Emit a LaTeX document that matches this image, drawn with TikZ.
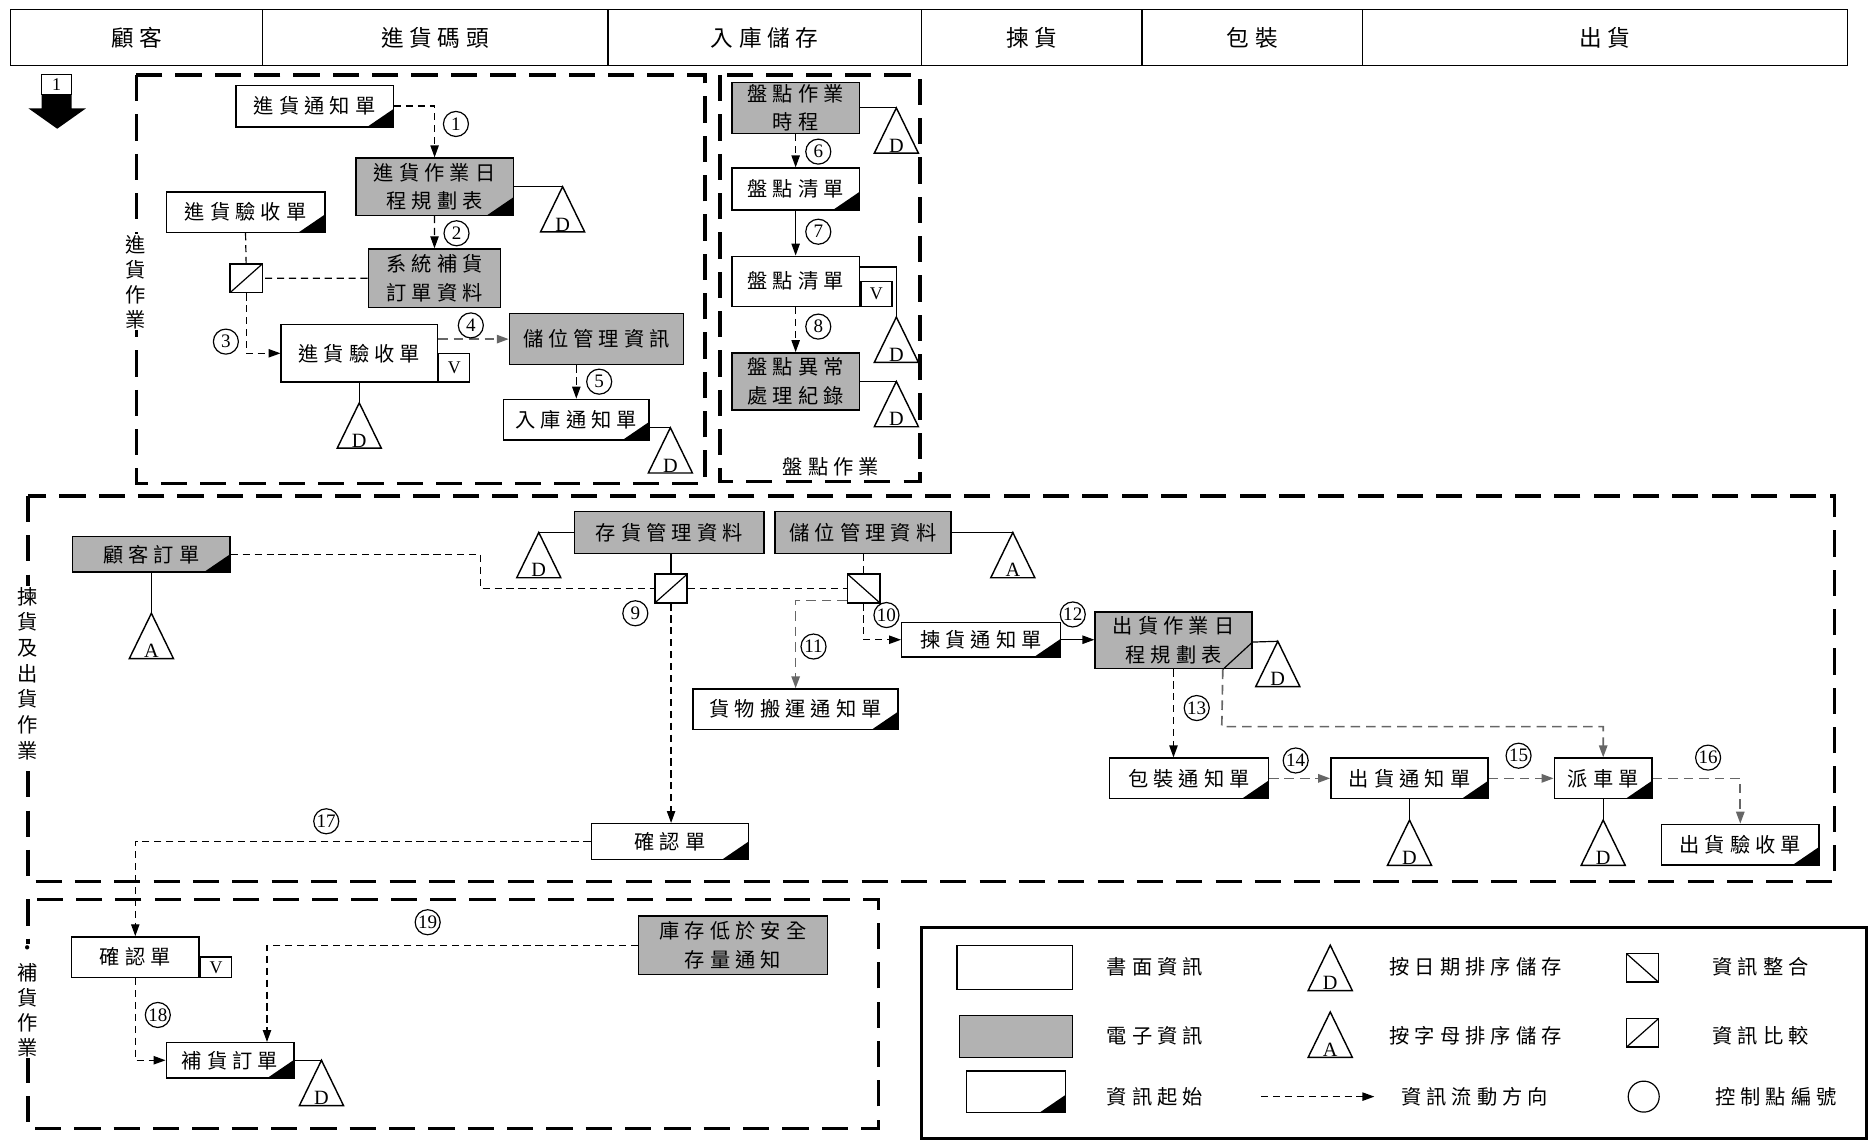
\documentclass[tikz,border=0pt]{standalone}
\usepackage{fontspec}
\setmainfont{Liberation Serif}
\newfontfamily\cjk[LetterSpace=25]{Noto Sans CJK TC}
\usetikzlibrary{arrows.meta}

\begin{document}
\begin{tikzpicture}[
    x=1pt, y=-1pt,
    box/.style={draw, line width=1.2pt, fill=white, inner sep=1pt, align=center, font=\cjk\fontsize{17}{24}\selectfont},
    paper/.style={box},
    elec/.style={box, fill=black!30},
    start/.style={path picture={\fill[black] (path picture bounding box.south east) -- ++(-22pt,0pt) -- ++(22pt,15pt) -- cycle;}},
    vbox/.style={draw, line width=1.2pt, fill=white, inner sep=0pt, minimum width=26pt, minimum height=21pt, anchor=south west, font=\fontsize{15}{15}\selectfont},
    cmp/.style={draw, line width=1.2pt, fill=white, minimum width=27pt, minimum height=24pt, inner sep=0pt,
        path picture={\draw[line width=1pt] (path picture bounding box.south west) -- (path picture bounding box.north east);}},
    mrg/.style={draw, line width=1.2pt, fill=white, minimum width=27pt, minimum height=24pt, inner sep=0pt,
        path picture={\draw[line width=1pt] (path picture bounding box.north west) -- (path picture bounding box.south east);}},
    num/.style={draw, circle, line width=1pt, fill=white, minimum size=21pt, inner sep=0pt, font=\fontsize{16}{16}\selectfont},
    head/.style={draw, line width=1.2pt, minimum height=47pt, inner sep=0pt, font=\cjk\fontsize{19}{19}\selectfont},
    region/.style={line width=3pt, dash pattern=on 22pt off 11pt},
    grplbl/.style={fill=white, inner sep=1pt, align=center, font=\cjk\fontsize{17}{21}\selectfont},
    lgtext/.style={font=\cjk\fontsize{17}{17}\selectfont, inner sep=1pt},
    link/.style={line width=1pt},
    flow/.style={line width=1pt, dash pattern=on 6pt off 4pt},
    flowg/.style={line width=1.4pt, draw=black!60, dash pattern=on 8pt off 5pt},
    tip/.style={-{Triangle[length=10pt, width=7pt]}},
    store/.pic={
        \draw[line width=1.2pt, fill=white] (0,0) -- (-18.5,38) -- (18.5,38) -- cycle;
        \node[anchor=south, inner sep=0.5pt, font=\fontsize{17}{17}\selectfont] at (0,38) {\tikzpictext};
    },
]
\useasboundingbox (0,0) rectangle (1568,956);

% header row
\node[head, minimum width=211pt] (hCust) at (114.5,31.5) {顧客};
\node[head, minimum width=290pt] (hDock) at (365,31.5) {進貨碼頭};
\node[head, minimum width=263pt] (hStore) at (641.5,31.5) {入庫儲存};
\node[head, minimum width=185pt] (hPick) at (865.5,31.5) {揀貨};
\node[head, minimum width=185pt] (hPack) at (1050.5,31.5) {包裝};
\node[head, minimum width=407pt] (hShip) at (1346.5,31.5) {出貨};

% step marker
\node[draw, line width=1pt, minimum width=25pt, minimum height=17pt, inner sep=0pt, font=\fontsize{15}{15}\selectfont] (stepNo) at (47.5,71) {1};
\fill (35,79.5) -- (60,79.5) -- (60,91) -- (72,91) -- (48,108) -- (24,91) -- (35,91) -- cycle;

% group frames
\draw[region] (114.4,63) rectangle (591.3,405.5);
\draw[region] (604,63) rectangle (772,404);
\draw[region] (23.5,416) rectangle (1539,739.7);
\draw[region] (23.5,754.5) rectangle (737,946.6);
\node[grplbl] (gIn) at (114,236.5) {進\\貨\\作\\業};
\node[grplbl] (gCount) at (697,392) {盤點作業};
\node[grplbl, font=\cjk\fontsize{17}{21.5}\selectfont] (gOut) at (23.5,565) {揀\\貨\\及\\出\\貨\\作\\業};
\node[grplbl] (gRefill) at (23.5,840) {·\\補\\貨\\作\\業};

% receiving
\node[paper, start, minimum width=132pt, minimum height=35pt] (inNote) at (264,89) {進貨通知單};
\node[elec, start, minimum width=132pt, minimum height=48pt] (inPlan) at (364.6,156.6) {進貨作業日\\程規劃表};
\node[paper, start, minimum width=133pt, minimum height=34pt] (inCheckA) at (206,178) {進貨驗收單};
\node[cmp] (cmpIn) at (206.5,233.5) {};
\node[elec, minimum width=111pt, minimum height=49pt] (sysOrder) at (364.5,233.4) {系統補貨\\訂單資料};
\node[paper, minimum width=131pt, minimum height=48pt] (inCheckB) at (301.4,296.4) {進貨驗收單};
\node[vbox, minimum height=24pt] (inCheckV) at (inCheckB.south east) {V};
\node[elec, minimum width=146pt, minimum height=43pt] (binInfo) at (500.4,284.5) {儲位管理資訊};
\node[paper, start, minimum width=122pt, minimum height=34pt] (stockIn) at (483.5,352) {入庫通知單};

% stock count
\node[elec, minimum width=107pt, minimum height=43pt] (countPlan) at (667.5,90.5) {盤點作業\\時程};
\node[paper, start, minimum width=107pt, minimum height=35pt] (countListA) at (667.5,158.5) {盤點清單};
\node[paper, minimum width=107pt, minimum height=42pt] (countListB) at (667.5,236) {盤點清單};
\node[vbox] (countListV) at (countListB.south east) {V};
\node[elec, minimum width=107pt, minimum height=48pt] (countErr) at (667.5,320) {盤點異常\\處理紀錄};

% picking and shipping
\node[elec, start, minimum width=132pt, minimum height=30pt] (custOrder) at (127,465) {顧客訂單};
\node[elec, minimum width=159pt, minimum height=35pt] (stockData) at (561.5,446.7) {存貨管理資料};
\node[elec, minimum width=148pt, minimum height=35pt] (binData) at (724,446.7) {儲位管理資料};
\node[cmp] (cmpOut) at (563,493.7) {};
\node[mrg] (mrgOut) at (724.6,493.7) {};
\node[paper, start, minimum width=172pt, minimum height=34pt] (moveNote) at (667.5,595) {貨物搬運通知單};
\node[paper, start, minimum width=133pt, minimum height=29pt] (pickNote) at (823,536.7) {揀貨通知單};
\node[elec, minimum width=131.5pt, minimum height=47.5pt] (shipPlan) at (984.5,537.3) {出貨作業日\\程規劃表};
\node[paper, start, minimum width=132pt, minimum height=30pt] (confirmA) at (562,706) {確認單};
\node[paper, start, minimum width=133pt, minimum height=34pt] (packNote) at (997.5,653) {包裝通知單};
\node[paper, start, minimum width=132pt, minimum height=34pt] (shipNote) at (1182.5,653) {出貨通知單};
\node[paper, start, minimum width=82pt, minimum height=34pt] (truckNote) at (1345,653) {派車單};
\node[paper, start, minimum width=132pt, minimum height=34pt] (shipCheck) at (1460,708.6) {出貨驗收單};

% replenishment
\node[paper, minimum width=107pt, minimum height=34pt] (confirmB) at (113.5,803) {確認單};
\node[vbox, minimum height=17pt] (confirmV) at (confirmB.south east) {V};
\node[paper, start, minimum width=107pt, minimum height=29.5pt] (refill) at (193,889.5) {補貨訂單};
\node[elec, minimum width=158.5pt, minimum height=49pt] (lowStock) at (615,793) {庫存低於安全\\存量通知};

% storage files
\coordinate (dPlan) at (472,156.6);
\coordinate (dCheck) at (301.4,338);
\coordinate (dStockIn) at (562.4,358.8);
\coordinate (dCount) at (752,90.5);
\coordinate (listTap) at (752,224);
\coordinate (dList) at (752,266);
\coordinate (dErr) at (752,320);
\coordinate (aCust) at (127,514.5);
\coordinate (dStock) at (452,446.7);
\coordinate (aBin) at (849.7,446.7);
\coordinate (planCut) at ([xshift=-25pt]shipPlan.south east);
\coordinate (planCutTop) at ([yshift=23pt]shipPlan.south east);
\coordinate (dShipPlan) at (1072,538);
\coordinate (dShipNote) at (1182.5,688);
\coordinate (dTruck) at (1345,688);
\coordinate (dRefill) at (269.7,889.5);

\draw[link] (inPlan.east) -- (dPlan);
\draw[link] (inCheckB.south) -- (dCheck);
\draw[link] (stockIn.east |- dStockIn) -- (dStockIn);
\draw[link] (countPlan.east) -- (dCount);
\draw[link] (countListB.east |- listTap) -- (listTap) -- (dList);
\draw[link] (countErr.east) -- (dErr);
\draw[link] (custOrder.south) -- (aCust);
\draw[link] (stockData.west) -- (dStock);
\draw[link] (binData.east) -- (aBin);
\draw[link] (planCut) -- (planCutTop) -- (dShipPlan);
\draw[link] (shipNote.south) -- (dShipNote);
\draw[link] (truckNote.south) -- (dTruck);
\draw[link] (refill.east) -- (dRefill);

\pic[pic text=D] at (dPlan) {store};
\pic[pic text=D] at (dCheck) {store};
\pic[pic text=D] at (dStockIn) {store};
\pic[pic text=D] at (dCount) {store};
\pic[pic text=D] at (dList) {store};
\pic[pic text=D] at (dErr) {store};
\pic[pic text=A] at (aCust) {store};
\pic[pic text=D] at (dStock) {store};
\pic[pic text=A] at (aBin) {store};
\pic[pic text=D] at (dShipPlan) {store};
\pic[pic text=D] at (dShipNote) {store};
\pic[pic text=D] at (dTruck) {store};
\pic[pic text=D] at (dRefill) {store};

% information flows
\draw[flow, tip] (inNote.east) -| (inPlan.north);
\draw[flow, tip] (inPlan.south) -- (sysOrder.north);
\draw[flow] (sysOrder.west) -- (cmpIn.east);
\draw[flow] (inCheckA.south) -- (cmpIn.north);
\draw[flow, tip] (cmpIn.south) |- (inCheckB.west);
\draw[flowg, tip] (binInfo.west -| inCheckB.east) -- (binInfo.west);
\draw[flow, tip] (binInfo.south -| stockIn.north) -- (stockIn.north);
\draw[flow, tip] (countPlan.south) -- (countListA.north);
\draw[link, tip] (countListA.south) -- (countListB.north);
\draw[flow, tip] (countListB.south) -- (countErr.north);

\coordinate (custJog) at (403,493.7);
\draw[flow] (custOrder.east) -| (custJog) -- (cmpOut.west);
\draw[flow] (cmpOut.east) -- (mrgOut.west);
\draw[link] (stockData.south -| cmpOut.north) -- (cmpOut.north);
\draw[flow] (binData.south -| mrgOut.north) -- (mrgOut.north);
\draw[flow, tip] (cmpOut.south) -- (cmpOut.south |- confirmA.north);
\draw[flow, tip] (mrgOut.south) |- (pickNote.west);
\draw[flowg, tip] ([yshift=2.5pt]mrgOut.south west) -| (moveNote.north);
\draw[link, tip] (pickNote.east) -- (pickNote.east -| shipPlan.west);
\draw[flow, tip] (shipPlan.south) -- (shipPlan.south |- packNote.north);
\coordinate (truckJog) at (1025,609.6);
\draw[flowg, tip] (planCut) -- (truckJog) -| (truckNote.north);
\draw[flowg, tip] (packNote.east) -- (shipNote.west);
\draw[flowg, tip] (shipNote.east) -- (truckNote.west);
\draw[flowg, tip] (truckNote.east) -| (shipCheck.north);
\draw[flow, tip] (confirmA.west) -| (confirmB.north);
\draw[flow, tip] (confirmB.south) |- (refill.west);
\coordinate (refillIn) at ([xshift=31pt]refill.north);
\draw[flow, tip] (lowStock.west) -| (refillIn);

% control points
\node[num] (n1) at (382.5,104) {1};
\node[num] (n2) at (383,195.7) {2};
\node[num] (n3) at (189.5,286.6) {3};
\node[num] (n4) at (395,273) {4};
\node[num] (n5) at (502.7,320.2) {5};
\node[num] (n6) at (686.5,127.2) {6};
\node[num] (n7) at (686.5,194.4) {7};
\node[num] (n8) at (686.5,274) {8};
\node[num] (n9) at (533,514.5) {9};
\node[num] (n10) at (743.7,516) {10};
\node[num] (n11) at (682.5,542.4) {11};
\node[num] (n12) at (900,515.5) {12};
\node[num] (n13) at (1004,594) {13};
\node[num] (n14) at (1087,638) {14};
\node[num] (n15) at (1274,634) {15};
\node[num] (n16) at (1433,635.6) {16};
\node[num] (n17) at (273.7,689) {17};
\node[num] (n18) at (132.4,851.5) {18};
\node[num] (n19) at (358.8,773.7) {19};

% legend
\draw[line width=2.5pt] (773,778) rectangle (1566,955);
\node[paper, minimum width=97pt, minimum height=37pt] (lgPaper) at (851.5,811.5) {};
\node[lgtext] (lgPaperT) at (969,811) {書面資訊};
\pic[pic text=D] at (1116,793) {store};
\node[lgtext] (lgDateT) at (1238,811) {按日期排序儲存};
\node[mrg] (lgMrg) at (1378,812) {};
\node[lgtext] (lgMrgT) at (1477,811) {資訊整合};
\node[elec, minimum width=95pt, minimum height=35pt] (lgElec) at (852.5,869.5) {};
\node[lgtext] (lgElecT) at (969,869) {電子資訊};
\pic[pic text=A] at (1116,849) {store};
\node[lgtext] (lgAlphaT) at (1238,869) {按字母排序儲存};
\node[cmp] (lgCmp) at (1378,866.5) {};
\node[lgtext] (lgCmpT) at (1477,869) {資訊比較};
\node[paper, start, minimum width=83pt, minimum height=35pt] (lgStart) at (852.5,916) {};
\node[lgtext] (lgStartT) at (969,920) {資訊起始};
\coordinate (lgFlowA) at (1058,920);
\coordinate (lgFlowB) at (1153,920);
\draw[flow, tip] (lgFlowA) -- (lgFlowB);
\node[lgtext] (lgFlowT) at (1237,920) {資訊流動方向};
\node[draw, circle, line width=1pt, minimum size=26pt, inner sep=0pt] (lgNum) at (1379,920) {};
\node[lgtext] (lgNumT) at (1490,920) {控制點編號};

\end{tikzpicture}
\end{document}
